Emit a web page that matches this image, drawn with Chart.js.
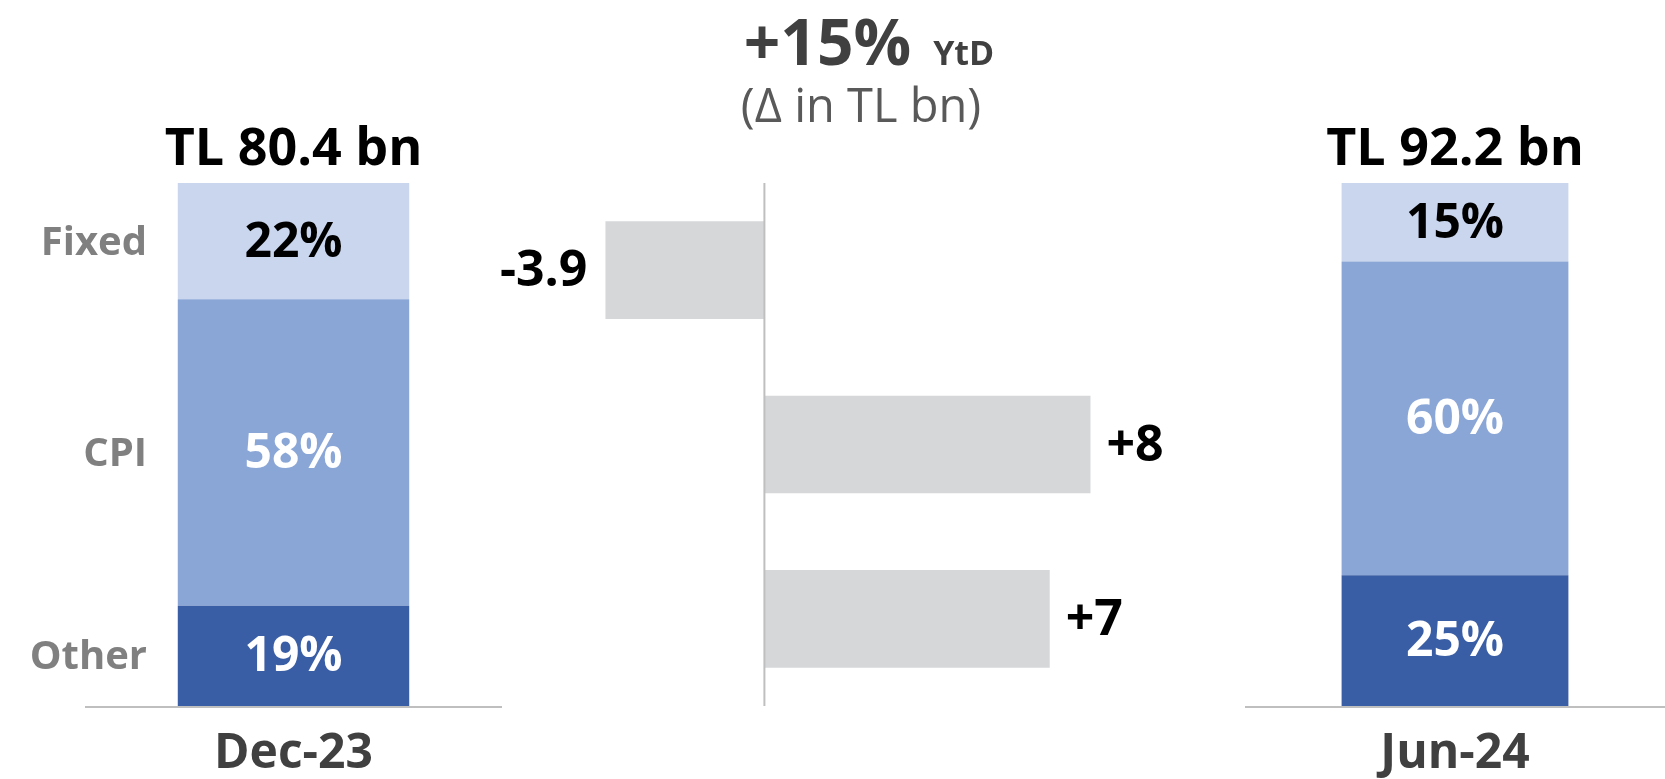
<!DOCTYPE html>
<html>
<head>
<meta charset="utf-8">
<script src="https://cdn.jsdelivr.net/npm/chart.js@4"></script>
<style>
  html, body { margin: 0; padding: 0; background: #fff; }
  #wrap { position: relative; width: 1665px; height: 779px; overflow: hidden; }
  canvas { position: absolute; top: 0; }
</style>
</head>
<body>
<div id="wrap">
  <canvas id="dec" width="540" height="779" style="left:0"></canvas>
  <canvas id="delta" width="760" height="779" style="left:480px"></canvas>
  <canvas id="jun" width="465" height="779" style="left:1200px"></canvas>
</div>
<script>
// rate mix, top to bottom
const segments = ["Fixed", "CPI", "Other"];
const dec23Shares = [22, 58, 19];
const jun24Shares = [15, 60, 25];
const periods = ["Dec-23", "Jun-24"];
const totals = [80.4, 92.2];
// change per segment, TL bn
const deltaValues = [-3.9, 8, 7];
const growth = "+15%";

const segmentColors = ["#CAD6EE", "#8AA6D7", "#3A5EA5"];
const segmentTextColors = ["#000000", "#FFFFFF", "#FFFFFF"];
const FONT = "'Open Sans', sans-serif";

function font(size, weight) {
  return (weight || "bold") + " " + size + "px " + FONT;
}

const shareLabels = {
  id: "shareLabels",
  afterDatasetsDraw(chart, args, opts) {
    const ctx = chart.ctx;
    const area = chart.chartArea;
    ctx.save();

    // base line
    ctx.strokeStyle = "#BFBFBF";
    ctx.lineWidth = 2;
    ctx.beginPath();
    ctx.moveTo(area.left, area.bottom + 1);
    ctx.lineTo(area.right, area.bottom + 1);
    ctx.stroke();

    ctx.textAlign = "center";
    ctx.textBaseline = "middle";
    let cx = 0;
    chart.data.datasets.forEach((ds, di) => {
      const bar = chart.getDatasetMeta(di).data[0];
      const seg = segments.indexOf(ds.label);
      const cy = (bar.y + bar.base) / 2;
      cx = bar.x;
      ctx.font = font(48);
      ctx.fillStyle = segmentTextColors[seg];
      ctx.fillText(ds.data[0] + "%", bar.x, cy + 2);
      if (opts.showNames) {
        ctx.textAlign = "right";
        ctx.font = font(40);
        ctx.fillStyle = "#808080";
        ctx.fillText(ds.label, opts.nameX, cy + 2);
        ctx.textAlign = "center";
      }
    });

    ctx.textBaseline = "alphabetic";
    ctx.fillStyle = "#000000";
    ctx.font = font(52);
    ctx.fillText("TL " + opts.total.toFixed(1) + " bn", cx, area.top - 18);

    ctx.fillStyle = "#404040";
    ctx.font = font(48);
    ctx.fillText(opts.period, cx, area.bottom + 62);
    ctx.restore();
  }
};

function shareChart(id, shares, total, period, barPct, padding, showNames) {
  const datasets = segments.map((name, i) => ({
    label: name,
    data: [shares[i]],
    backgroundColor: segmentColors[i],
    barPercentage: barPct,
    categoryPercentage: 1
  })).reverse();
  const sum = shares.reduce((a, b) => a + b, 0);
  return new Chart(document.getElementById(id), {
    type: "bar",
    data: { labels: [period], datasets: datasets },
    options: {
      responsive: false,
      animation: false,
      layout: { padding: padding },
      plugins: {
        legend: { display: false },
        tooltip: { enabled: false },
        shareLabels: { total: total, period: period, showNames: showNames, nameX: 147 }
      },
      scales: {
        x: { stacked: true, display: false },
        y: { stacked: true, display: false, min: 0, max: sum }
      }
    },
    plugins: [shareLabels]
  });
}

shareChart("dec", dec23Shares, totals[0], periods[0], 0.555,
  { left: 85, right: 38, top: 183, bottom: 73 }, true);
shareChart("jun", jun24Shares, totals[1], periods[1], 0.54,
  { left: 45, right: 0, top: 183, bottom: 73 }, false);

const deltaLabels = {
  id: "deltaLabels",
  afterDatasetsDraw(chart) {
    const ctx = chart.ctx;
    const area = chart.chartArea;
    const x0 = chart.scales.x.getPixelForValue(0);
    ctx.save();

    // zero line
    ctx.strokeStyle = "#BFBFBF";
    ctx.lineWidth = 2;
    ctx.beginPath();
    ctx.moveTo(x0, area.top);
    ctx.lineTo(x0, area.bottom);
    ctx.stroke();

    ctx.font = font(50);
    ctx.fillStyle = "#000000";
    ctx.textBaseline = "middle";
    chart.getDatasetMeta(0).data.forEach((bar, i) => {
      const v = deltaValues[i];
      const txt = v > 0 ? "+" + v : String(v);
      if (v < 0) {
        ctx.textAlign = "right";
        ctx.fillText(txt, bar.x - 18, bar.y + 2);
      } else {
        ctx.textAlign = "left";
        ctx.fillText(txt, bar.x + 16, bar.y + 2);
      }
    });

    // heading
    const cx = 389;
    ctx.textBaseline = "alphabetic";
    ctx.fillStyle = "#404040";
    ctx.font = font(64);
    const w1 = ctx.measureText(growth).width;
    ctx.font = font(34);
    const w2 = ctx.measureText("YtD").width;
    const gap = 22;
    const start = cx - (w1 + gap + w2) / 2;
    ctx.textAlign = "left";
    ctx.font = font(64);
    ctx.fillText(growth, start, 65);
    ctx.font = font(34);
    ctx.fillText("YtD", start + w1 + gap, 65);

    ctx.textAlign = "center";
    ctx.fillStyle = "#595959";
    ctx.font = font(47, "normal");
    ctx.fillText("(\u0394 in TL bn)", cx - 8, 122);
    ctx.restore();
  }
};

new Chart(document.getElementById("delta"), {
  type: "bar",
  data: {
    labels: segments,
    datasets: [{
      data: deltaValues,
      backgroundColor: "#D6D7D9",
      barPercentage: 0.56,
      categoryPercentage: 1
    }]
  },
  options: {
    indexAxis: "y",
    responsive: false,
    animation: false,
    layout: { padding: { left: 101, right: 68, top: 183, bottom: 73 } },
    plugins: { legend: { display: false }, tooltip: { enabled: false } },
    scales: {
      x: { display: false, min: -4.5, max: 10 },
      y: { display: false }
    }
  },
  plugins: [deltaLabels]
});
</script>
</body>
</html>
